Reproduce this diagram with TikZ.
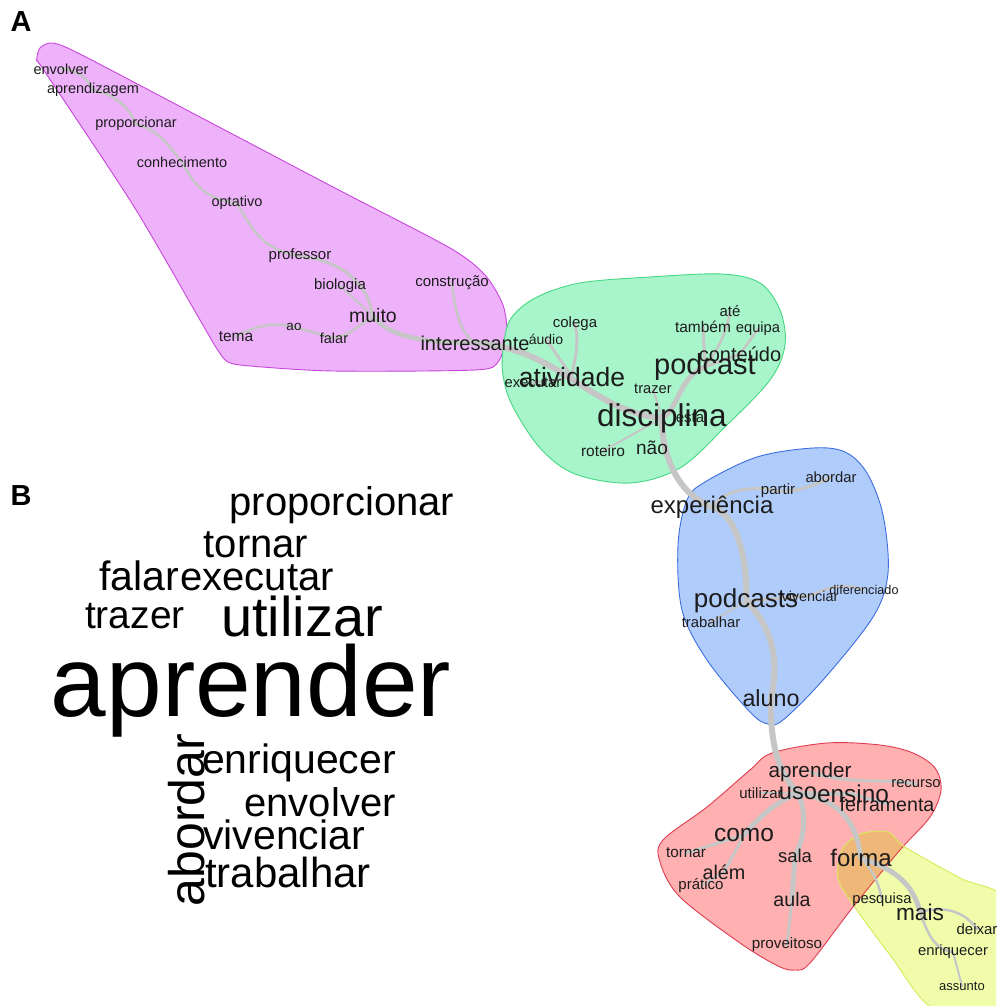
\documentclass[tikz,border=0pt]{standalone}
\usepackage{fontspec}
\setmainfont{Liberation Sans}
\pgfdeclarelayer{regions}
\pgfdeclarelayer{links}
\pgfsetlayers{regions,links,main}
\definecolor{edgec}{RGB}{198,198,198}
\definecolor{wordc}{RGB}{28,28,28}
\definecolor{pinkF}{RGB}{238,178,250}
\definecolor{pinkD}{RGB}{200,70,220}
\definecolor{greenF}{RGB}{168,245,204}
\definecolor{greenD}{RGB}{70,215,130}
\definecolor{blueF}{RGB}{176,204,250}
\definecolor{blueD}{RGB}{60,110,225}
\definecolor{redF}{RGB}{255,176,176}
\definecolor{redD}{RGB}{225,60,80}
\definecolor{yellowF}{RGB}{240,252,170}
\definecolor{yellowD}{RGB}{215,235,90}
\definecolor{orangeF}{RGB}{240,184,120}
\newcommand\fsz[1]{\fontsize{#1}{#1}\selectfont}
\newcommand\pinkpath{plot[smooth cycle, tension=0.45] coordinates {(37,60) (40,48) (52,43) (78,53) (200,117) (333,187) (450,248) (485,275) (503,305) (507,335) (498,362) (475,370) (333,371) (250,366) (228,362) (217,349) (200,320) (133,205) (45,72)}}
\newcommand\greenpath{plot[smooth cycle, tension=0.55] coordinates {(503,350) (510,320) (535,298) (580,283) (650,277) (722,274) (760,283) (780,310) (785,345) (770,380) (725,427) (680,468) (630,483) (575,474) (540,448) (512,405) (503,375)}}
\newcommand\bluepath{plot[smooth cycle, tension=0.55] coordinates {(687,500) (705,482) (757,457) (813,448) (845,452) (867,473) (883,515) (888,573) (873,617) (823,680) (783,720) (768,724) (750,712) (707,660) (682,610) (678,545)}}
\newcommand\redpath{plot[smooth cycle, tension=0.55] coordinates {(772,753) (827,743) (880,745) (913,753) (935,768) (941,790) (930,817) (900,850) (853,907) (810,963) (795,970) (778,966) (740,943) (680,897) (660,862) (663,840) (707,807) (750,770)}}
\newcommand\yellowpath{plot[smooth cycle, tension=0.5] coordinates {(838,878) (842,850) (860,834) (888,832) (905,847) (960,878) (1010,905) (1010,1015) (935,1010) (890,955) (852,903)}}
\tikzset{
  w/.style={inner sep=0pt, text=wordc, font=\fsz{#1}},
  cw/.style={inner sep=0pt, text=black, font=\fsz{#1}},
  lnk/.style={draw=edgec, line width=#1, line cap=round},
  lbl/.style={inner sep=0pt, font=\fsz{29}\bfseries}
}
\begin{document}
\begin{tikzpicture}[x=1pt,y=-1pt]
\useasboundingbox (0,0) rectangle (996,1006);

% ---------- regions ----------
\begin{pgfonlayer}{regions}
\fill[white] (0,0) rectangle (996,1006);
\fill[pinkF] \pinkpath;
\draw[pinkD, line width=0.9pt] \pinkpath;
\fill[greenF] \greenpath;
\draw[greenD, line width=0.9pt] \greenpath;
\fill[blueF] \bluepath;
\draw[blueD, line width=0.9pt] \bluepath;
\fill[redF] \redpath;
\begin{scope}
\clip (0,0) rectangle (996,1006);
\fill[yellowF] \yellowpath;
\begin{scope}
\clip \redpath;
\fill[orangeF] \yellowpath;
\end{scope}
\draw[redD, line width=0.9pt] \redpath;
\draw[yellowD, line width=0.9pt] \yellowpath;
\end{scope}
\end{pgfonlayer}

% ---------- labels ----------
\node[lbl] (labA) at (21,22) {A};
\node[lbl] (labB) at (21,496) {B};

% ---------- pink group ----------
\node[w=14.5] (envolver) at (61,69) {envolver};
\node[w=14.5] (aprendizagem) at (93,90) {aprendizagem};
\node[w=14.5] (proporcionar) at (136,124) {proporcionar};
\node[w=14.5] (conhecimento) at (182,162) {conhecimento};
\node[w=14.5] (optativo) at (237,203) {optativo};
\node[w=15] (professor) at (300,256) {professor};
\node[w=15] (biologia) at (340,286) {biologia};
\node[w=15] (construcao) at (452,283) {construção};
\node[w=19.5] (muito) at (373,316) {muito};
\node[w=15.5] (tema) at (236,337) {tema};
\node[w=13.5] (ao) at (294,327) {ao};
\node[w=14.5] (falar) at (334,338) {falar};
\node[w=14] (audio) at (546,339) {áudio};
\node[w=20] (interessante) at (475,343) {interessante};

% ---------- green group ----------
\node[w=15] (colega) at (575,324) {colega};
\node[w=15] (ate) at (730,311) {até};
\node[w=15.5] (tambem) at (703,327) {também};
\node[w=14.7] (equipa) at (758,329) {equipa};
\node[w=20] (conteudo) at (740,354) {conteúdo};
\node[w=29] (podcast) at (705,367) {podcast};
\node[w=14.8] (executar) at (533,383) {executar};
\node[w=26.5] (atividade) at (572,377) {atividade};
\node[w=14.7] (trazer) at (653,389) {trazer};
\node[w=15] (esta) at (690,418) {esta};
\node[w=31.5] (disciplina) at (662,418) {disciplina};
\node[w=15.5] (roteiro) at (603,451) {roteiro};
\node[w=19] (nao) at (652,448) {não};

% ---------- blue group ----------
\node[w=14.8] (abordar) at (831,477) {abordar};
\node[w=15] (partir) at (778,491) {partir};
\node[w=24] (experiencia) at (712,507) {experiência};
\node[w=14.4] (vivenciar) at (810,596) {vivenciar};
\node[w=12.7] (diferenciado) at (864,590) {diferenciado};
\node[w=26] (podcasts) at (746,601) {podcasts};
\node[w=14.8] (trabalhar) at (711,622) {trabalhar};
\node[w=23.3] (aluno) at (771,698) {aluno};

% ---------- red / yellow group ----------
\node[w=20.7] (aprender) at (810,772) {aprender};
\node[w=14.8] (recurso) at (916,784) {recurso};
\node[w=15] (utilizar) at (761,793) {utilizar};
\node[w=23.6] (uso) at (798,793) {uso};
\node[w=19.6] (ferramenta) at (887,804) {ferramenta};
\node[w=24.4] (ensino) at (853,794) {ensino};
\node[w=24.5] (como) at (744,835) {como};
\node[w=15.3] (tornar) at (686,853) {tornar};
\node[w=18.5] (sala) at (795,856) {sala};
\node[w=24] (forma) at (861,858) {forma};
\node[w=19.8] (alem) at (724,872) {além};
\node[w=15] (pratico) at (701,886) {prático};
\node[w=19.6] (aula) at (792,899) {aula};
\node[w=14.8] (pesquisa) at (882,900) {pesquisa};
\node[w=22.7] (mais) at (920,912) {mais};
\node[w=15] (deixar) at (977,929) {deixar};
\node[w=14.8] (enriquecer) at (953,952) {enriquecer};
\node[w=15.2] (proveitoso) at (787,945) {proveitoso};
\node[w=13] (assunto) at (962,986) {assunto};

% ---------- links ----------
\begin{pgfonlayer}{links}
% pink
\draw[lnk=2.5pt] (envolver.center) .. controls (80,70) and (88,80) .. (aprendizagem.center);
\draw[lnk=2.5pt] (aprendizagem.center) .. controls (118,95) and (130,110) .. (proporcionar.center);
\draw[lnk=2.5pt] (proporcionar.center) .. controls (160,130) and (172,150) .. (conhecimento.center);
\draw[lnk=2.5pt] (conhecimento.center) .. controls (192,182) and (205,200) .. (optativo.center);
\draw[lnk=2.5pt] (optativo.center) .. controls (250,225) and (260,250) .. (professor.center);
\draw[lnk=3pt] (professor.center) .. controls (345,262) and (368,285) .. (muito.center);
\draw[lnk=2pt] (biologia.center) -- (muito.center);
\draw[lnk=4.5pt] (muito.center) .. controls (385,332) and (410,343) .. (interessante.center);
\draw[lnk=2.5pt] (tema.center) .. controls (255,325) and (275,322) .. (ao.center);
\draw[lnk=2.5pt] (ao.center) -- (falar.center);
\draw[lnk=2.5pt] (falar.center) .. controls (350,335) and (360,325) .. (muito.center);
\draw[lnk=2.5pt] (construcao.center) .. controls (455,312) and (460,332) .. (interessante.center);
% green
\draw[lnk=6pt] (interessante.center) .. controls (560,348) and (590,412) .. (disciplina.center);
\draw[lnk=3pt] (colega.center) .. controls (580,345) and (574,360) .. (atividade.center);
\draw[lnk=3pt] (audio.center) -- (atividade.center);
\draw[lnk=2pt] (executar.center) -- (atividade.center);
\draw[lnk=5pt] (disciplina.center) .. controls (678,410) and (680,375) .. (podcast.center);
\draw[lnk=3pt] (podcast.center) -- (tambem.center);
\draw[lnk=2.5pt] (podcast.center) .. controls (722,345) and (728,325) .. (ate.center);
\draw[lnk=3pt] (podcast.center) -- (conteudo.center);
\draw[lnk=2.5pt] (conteudo.center) -- (equipa.center);
\draw[lnk=2pt] (trazer.center) -- (disciplina.center);
\draw[lnk=2pt] (roteiro.center) -- (disciplina.center);
\draw[lnk=6pt] (disciplina.center) .. controls (662,460) and (680,495) .. (experiencia.center);
% blue
\draw[lnk=6pt] (experiencia.center) .. controls (740,515) and (748,570) .. (podcasts.center);
\draw[lnk=3pt] (experiencia.center) .. controls (725,490) and (750,485) .. (partir.center);
\draw[lnk=3pt] (partir.center) .. controls (800,492) and (815,485) .. (abordar.center);
\draw[lnk=3pt] (podcasts.center) -- (vivenciar.center);
\draw[lnk=2.5pt] (vivenciar.center) .. controls (825,588) and (845,582) .. (diferenciado.center);
\draw[lnk=2pt] (trabalhar.center) -- (podcasts.center);
\draw[lnk=6pt] (podcasts.center) .. controls (765,620) and (782,650) .. (aluno.center);
% red
\draw[lnk=6pt] (aluno.center) .. controls (770,735) and (775,770) .. (uso.center);
\draw[lnk=3pt] (aprender.center) .. controls (850,785) and (880,778) .. (recurso.center);
\draw[lnk=2pt] (utilizar.center) -- (uso.center);
\draw[lnk=4pt] (uso.center) -- (ensino.center);
\draw[lnk=3pt] (ensino.center) -- (ferramenta.center);
\draw[lnk=5pt] (uso.center) .. controls (835,800) and (855,815) .. (forma.center);
\draw[lnk=5pt] (uso.center) .. controls (780,800) and (760,815) .. (como.center);
\draw[lnk=3pt] (como.center) -- (tornar.center);
\draw[lnk=3pt] (como.center) -- (alem.center);
\draw[lnk=2pt] (alem.center) -- (pratico.center);
\draw[lnk=5pt] (uso.center) .. controls (806,810) and (806,835) .. (sala.center);
\draw[lnk=5pt] (sala.center) -- (aula.center);
\draw[lnk=3pt] (aula.center) -- (proveitoso.center);
\draw[lnk=5pt] (forma.center) .. controls (890,868) and (912,880) .. (mais.center);
\draw[lnk=2.5pt] (forma.center) .. controls (877,875) and (880,890) .. (pesquisa.center);
\draw[lnk=2.5pt] (mais.center) .. controls (945,905) and (965,912) .. (deixar.center);
\draw[lnk=2.5pt] (mais.center) .. controls (928,935) and (935,950) .. (enriquecer.center);
\draw[lnk=2pt] (enriquecer.center) -- (assunto.center);
\end{pgfonlayer}

% ---------- word cloud ----------
\node[cw=40] (cproporcionar) at (342,505) {proporcionar};
\node[cw=40] (ctornar) at (256,545) {tornar};
\node[cw=41] (cfalar) at (139,576) {falar};
\node[cw=40] (cexecutar) at (257,578) {executar};
\node[cw=39] (ctrazer) at (135,616) {trazer};
\node[cw=56] (cutilizar) at (302,616) {utilizar};
\node[cw=100] (caprender) at (251,691) {aprender};
\node[cw=50, rotate=90] (cabordar) at (187,820) {abordar};
\node[cw=41] (cenriquecer) at (299,763) {enriquecer};
\node[cw=40] (cenvolver) at (320,802) {envolver};
\node[cw=41] (cvivenciar) at (284,835) {vivenciar};
\node[cw=42] (ctrabalhar) at (288,872) {trabalhar};
\end{tikzpicture}
\end{document}
